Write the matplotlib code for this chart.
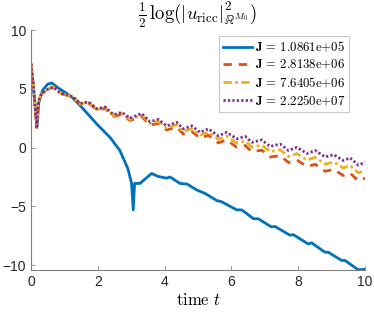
import numpy as np
import matplotlib.pyplot as plt

plt.rcParams['mathtext.fontset'] = 'cm'
plt.rcParams['font.family'] = ['Liberation Sans', 'DejaVu Sans']

# time grid and values of the three upper curves
t_up = [0, 0.08, 0.17, 0.22, 0.3, 0.45, 0.67, 0.87, 1.07, 1.27, 1.47, 1.72, 1.97,
        2.22, 2.47, 2.72, 2.96, 3.31, 3.56, 3.81, 4.06, 4.36, 4.56, 4.81, 5.06, 5.31,
        5.61, 5.86, 6.16, 6.41, 6.61, 6.91, 7.16, 7.46, 7.71, 7.96, 8.26, 8.51, 8.81,
        9.06, 9.35, 9.55, 9.8, 10.0]
purple = [7.1, 5.0, 1.8, 3.9, 4.5, 4.9, 5.15, 4.65, 4.5, 4.3, 3.75, 3.9, 3.3,
          3.45, 2.8, 3.0, 2.5, 2.9, 2.2, 2.4, 1.85, 2.15, 1.6, 1.85, 1.3, 1.6,
          1.0, 1.3, 0.75, 0.95, 0.45, 0.65, 0.1, 0.3, -0.25, 0.03, -0.5, -0.25, -0.8,
          -0.6, -1.1, -0.87, -1.5, -1.25]
red = [7.1, 5.0, 1.7, 3.9, 4.5, 4.9, 5.15, 4.6, 4.45, 4.25, 3.7, 3.8, 3.2,
       3.33, 2.65, 2.82, 2.3, 2.65, 1.9, 2.07, 1.5, 1.75, 1.15, 1.37, 0.8, 1.05,
       0.4, 0.65, 0.03, 0.18, -0.35, -0.22, -0.8, -0.68, -1.27, -1.05, -1.62, -1.42, -2.02,
       -1.85, -2.38, -2.17, -2.82, -2.6]
yellow = [7.1, 5.0, 1.75, 3.9, 4.5, 4.9, 5.15, 4.62, 4.48, 4.28, 3.72, 3.85, 3.25,
          3.39, 2.72, 2.91, 2.4, 2.78, 2.05, 2.23, 1.67, 1.95, 1.37, 1.61, 1.05, 1.32,
          0.7, 0.97, 0.39, 0.56, 0.05, 0.21, -0.35, -0.19, -0.76, -0.51, -1.06, -0.83, -1.41,
          -1.22, -1.74, -1.52, -2.16, -1.93]

# blue curve
t_blue = [0, 0.08, 0.18, 0.23, 0.35, 0.5, 0.62, 0.8, 1.07, 1.26, 1.56, 1.97, 2.37,
          2.66, 2.9, 3.01, 3.06, 3.1, 3.26, 3.61, 3.8, 4.06, 4.16, 4.46, 4.67, 4.96,
          5.21, 5.56, 5.7, 6.16, 6.31, 6.66, 6.8, 7.2, 7.3, 7.75, 7.85, 8.3, 8.4,
          8.8, 8.9, 9.3, 9.4, 9.8, 10.0]
blue = [7.1, 4.8, 1.8, 3.8, 4.9, 5.4, 5.5, 5.1, 4.6, 4.2, 3.3, 2.0, 0.85,
        -0.25, -1.8, -3.05, -5.3, -3.05, -3.05, -2.2, -2.45, -2.6, -2.5, -3.05, -3.1, -3.6,
        -3.9, -4.5, -4.6, -5.3, -5.3, -6.05, -6.05, -6.75, -6.7, -7.45, -7.4, -8.2, -8.1,
        -8.9, -8.9, -9.6, -9.6, -10.4, -10.35]

labels = [r'$\mathbf{J}\,=\,1.0861\mathrm{e}{+}05$',
          r'$\mathbf{J}\,=\,2.8138\mathrm{e}{+}06$',
          r'$\mathbf{J}\,=\,7.6405\mathrm{e}{+}06$',
          r'$\mathbf{J}\,=\,2.2250\mathrm{e}{+}07$']

fig = plt.figure(figsize=(3.74, 3.16), dpi=100)
ax = fig.add_axes([0.083, 0.146, 0.893, 0.759])

ax.plot(t_blue, blue, color='#0072BD', lw=2.0, label=labels[0])
ax.plot(t_up, red, color='#D95319', lw=2.0, ls=(0, (3, 2.5)), label=labels[1])
ax.plot(t_up, yellow, color='#EDB120', lw=2.0, ls=(0, (3, 1.2, 1, 1.2)), label=labels[2])
ax.plot(t_up, purple, color='#7E2F8E', lw=2.0, ls=(0, (0.8, 0.8)), label=labels[3])

ax.set_xlim(0, 10)
ax.set_ylim(-10.4, 10)
ax.set_xticks([0, 2, 4, 6, 8, 10])
ax.set_yticks([-10, -5, 0, 5, 10])
ax.spines['top'].set_visible(False)
ax.spines['right'].set_visible(False)
for s in ['left', 'bottom']:
    ax.spines[s].set_color('#808080')
    ax.spines[s].set_linewidth(0.8)
ax.tick_params(direction='in', length=3, width=0.6, color='#808080',
               labelsize=10, labelcolor='#262626')

ax.set_title(r'$\frac{1}{2}\,\log(|u_{\mathrm{ricc}}|^2_{\mathbb{R}^{M_0}})$',
             fontsize=13.5, pad=4)
ax.set_xlabel(r'$\mathrm{time}\ t$', fontsize=12, labelpad=2)

leg = ax.legend(loc='upper right', bbox_to_anchor=(0.96, 0.985), fontsize=9.2,
                handlelength=2.3, handletextpad=0.2, borderpad=0.3,
                labelspacing=0.28, fancybox=False, framealpha=1,
                borderaxespad=0.2)
leg.get_frame().set_edgecolor('#c8c8c8')
leg.get_frame().set_linewidth(0.8)

fig.savefig('out.png', dpi=100)
